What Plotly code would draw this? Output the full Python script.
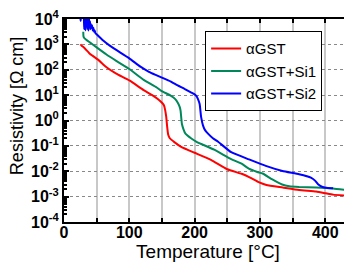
import plotly.graph_objects as go

# ---- data (temperature in °C, resistivity in Ω cm) ----
t_gst = [25, 27, 32, 40, 52, 65, 80, 100, 122, 135, 145, 150, 153, 155, 156.5, 158, 159.5, 162, 169, 180,
         200, 225, 250, 272, 285, 298, 310, 335, 360, 386, 401, 412, 435]
rho_gst = [1000, 891, 692, 417, 251, 126, 70.8, 38.0, 15.8, 10.0, 6.61, 5.01, 3.98, 2.51, 1.41, 0.562,
           0.282, 0.200, 0.141, 0.0891, 0.0537, 0.0282, 0.0120, 0.00794, 0.00562, 0.00372, 0.00288,
           0.00229, 0.00182, 0.00158, 0.00135, 0.00120, 0.00107]

t_si1 = [29.5, 29.8, 31, 34, 40, 50, 65, 80, 100, 122, 142, 149, 164, 170, 174, 177, 178.5, 180.5, 183,
         186, 195, 203, 230, 256, 272, 283, 296, 304, 319, 334, 345, 360, 386, 412, 435]
rho_si1 = [3160, 2090, 1780, 1510, 1170, 759, 398, 224, 107, 39.8, 20.0, 14.8, 9.33, 7.08, 5.13, 3.55,
           2.45, 0.741, 0.447, 0.302, 0.195, 0.145, 0.0708, 0.0302, 0.0200, 0.0126, 0.00933, 0.00813,
           0.00479, 0.00302, 0.00257, 0.00240, 0.00229, 0.00209, 0.00178]

t_si2 = [25, 25.5, 26, 28, 30, 31, 32, 33, 34, 35, 35.5, 36, 37, 37.5, 38, 39, 40, 40.5, 41, 42, 43, 44,
         45, 46, 47, 48, 50, 60, 70, 80, 100, 117, 130, 142, 149, 163, 174, 185, 195, 200, 202.6, 205,
         207.7, 210, 212.8, 216, 220.5, 228, 236, 256, 283, 309, 334.5, 360, 378, 384, 389, 396, 404, 412]
rho_si2 = [11200, 8320, 12600, 20000, 15800, 3980, 20000, 3550, 15800, 5010, 20000, 3980, 8910, 3550,
           12600, 5010, 7940, 3980, 6310, 4470, 5620, 3550, 4470, 3160, 3550, 2820, 2510, 1410, 891,
           603, 282, 132, 83.2, 60.3, 50.1, 34.7, 24.0, 17.4, 12.6, 10.7, 9.33, 7.08, 4.47, 1.35,
           0.646, 0.417, 0.302, 0.200, 0.145, 0.0562, 0.0295, 0.0162, 0.0102, 0.00759, 0.00562,
           0.00437, 0.00309, 0.00240, 0.00219, 0.00214]

names = ["\u03b1GST", "\u03b1GST+Si1", "\u03b1GST+Si2"]
colors = ["#ff0000", "#00875a", "#0000ff"]

x_ticks = [0, 100, 200, 300, 400]
y_tick_vals = [1e-4, 1e-3, 1e-2, 1e-1, 1e0, 1e1, 1e2, 1e3, 1e4]
y_tick_text = ["10<sup>-4</sup>", "10<sup>-3</sup>", "10<sup>-2</sup>", "10<sup>-1</sup>",
               "10<sup>0</sup>", "10<sup>1</sup>", "10<sup>2</sup>", "10<sup>3</sup>", "10<sup>4</sup>"]

fig = go.Figure()
for t, r, n, c in zip([t_gst, t_si1, t_si2], [rho_gst, rho_si1, rho_si2], names, colors):
    fig.add_trace(go.Scatter(x=t, y=r, mode="lines", name=n,
                             line=dict(color=c, width=2, shape="spline", smoothing=0.4)))

# the page body offsets the figure; size it so it fills the 352x271 window
fig.update_layout(
    width=344, height=267,
    margin=dict(l=56, r=0, t=11, b=53),
    paper_bgcolor="white", plot_bgcolor="white",
    font=dict(family="Liberation Sans, Arial, sans-serif", color="black", size=16),
    showlegend=True,
    legend=dict(x=0.49, y=0.94, xanchor="left", yanchor="top",
                bgcolor="white", bordercolor="black", borderwidth=1,
                font=dict(size=15), tracegroupgap=0, itemwidth=30),
    annotations=[dict(text="Resistivity [\u03a9 cm]", textangle=-90, showarrow=False,
                      xref="paper", yref="paper", x=-0.161, y=0.569,
                      xanchor="center", yanchor="middle", font=dict(size=18))],
)

fig.update_xaxes(
    range=[0, 441], tickvals=x_ticks, ticktext=[str(v) for v in x_ticks],
    ticks="inside", ticklen=4, tickwidth=1.5, tickcolor="black",
    tickfont=dict(size=16, weight="bold"), ticklabelstandoff=-5,
    showline=True, linecolor="black", linewidth=2, mirror="ticks",
    showgrid=True, gridcolor="#c8c8c8", gridwidth=1.5,
    minor=dict(dtick=50, tick0=0, ticks="inside", ticklen=4, tickcolor="black",
               showgrid=True, gridcolor="#c8c8c8", gridwidth=1.5),
    title=dict(text="Temperature [°C]", font=dict(size=19), standoff=4),
    zeroline=False, automargin=False,
)
fig.update_yaxes(
    type="log", range=[-4, 4], tickvals=y_tick_vals, ticktext=y_tick_text,
    ticks="inside", ticklen=5, tickwidth=1.5, tickcolor="black",
    tickfont=dict(size=16, weight="bold"), ticklabeloverflow="allow",
    showline=True, linecolor="black", linewidth=2,
    showgrid=True, gridcolor="#888888", gridwidth=1, griddash="dot",
    minor=dict(ticks="inside", ticklen=3, tickcolor="black", dtick="D1", showgrid=False),
    zeroline=False, automargin=False,
)

fig.write_html("out.html")
